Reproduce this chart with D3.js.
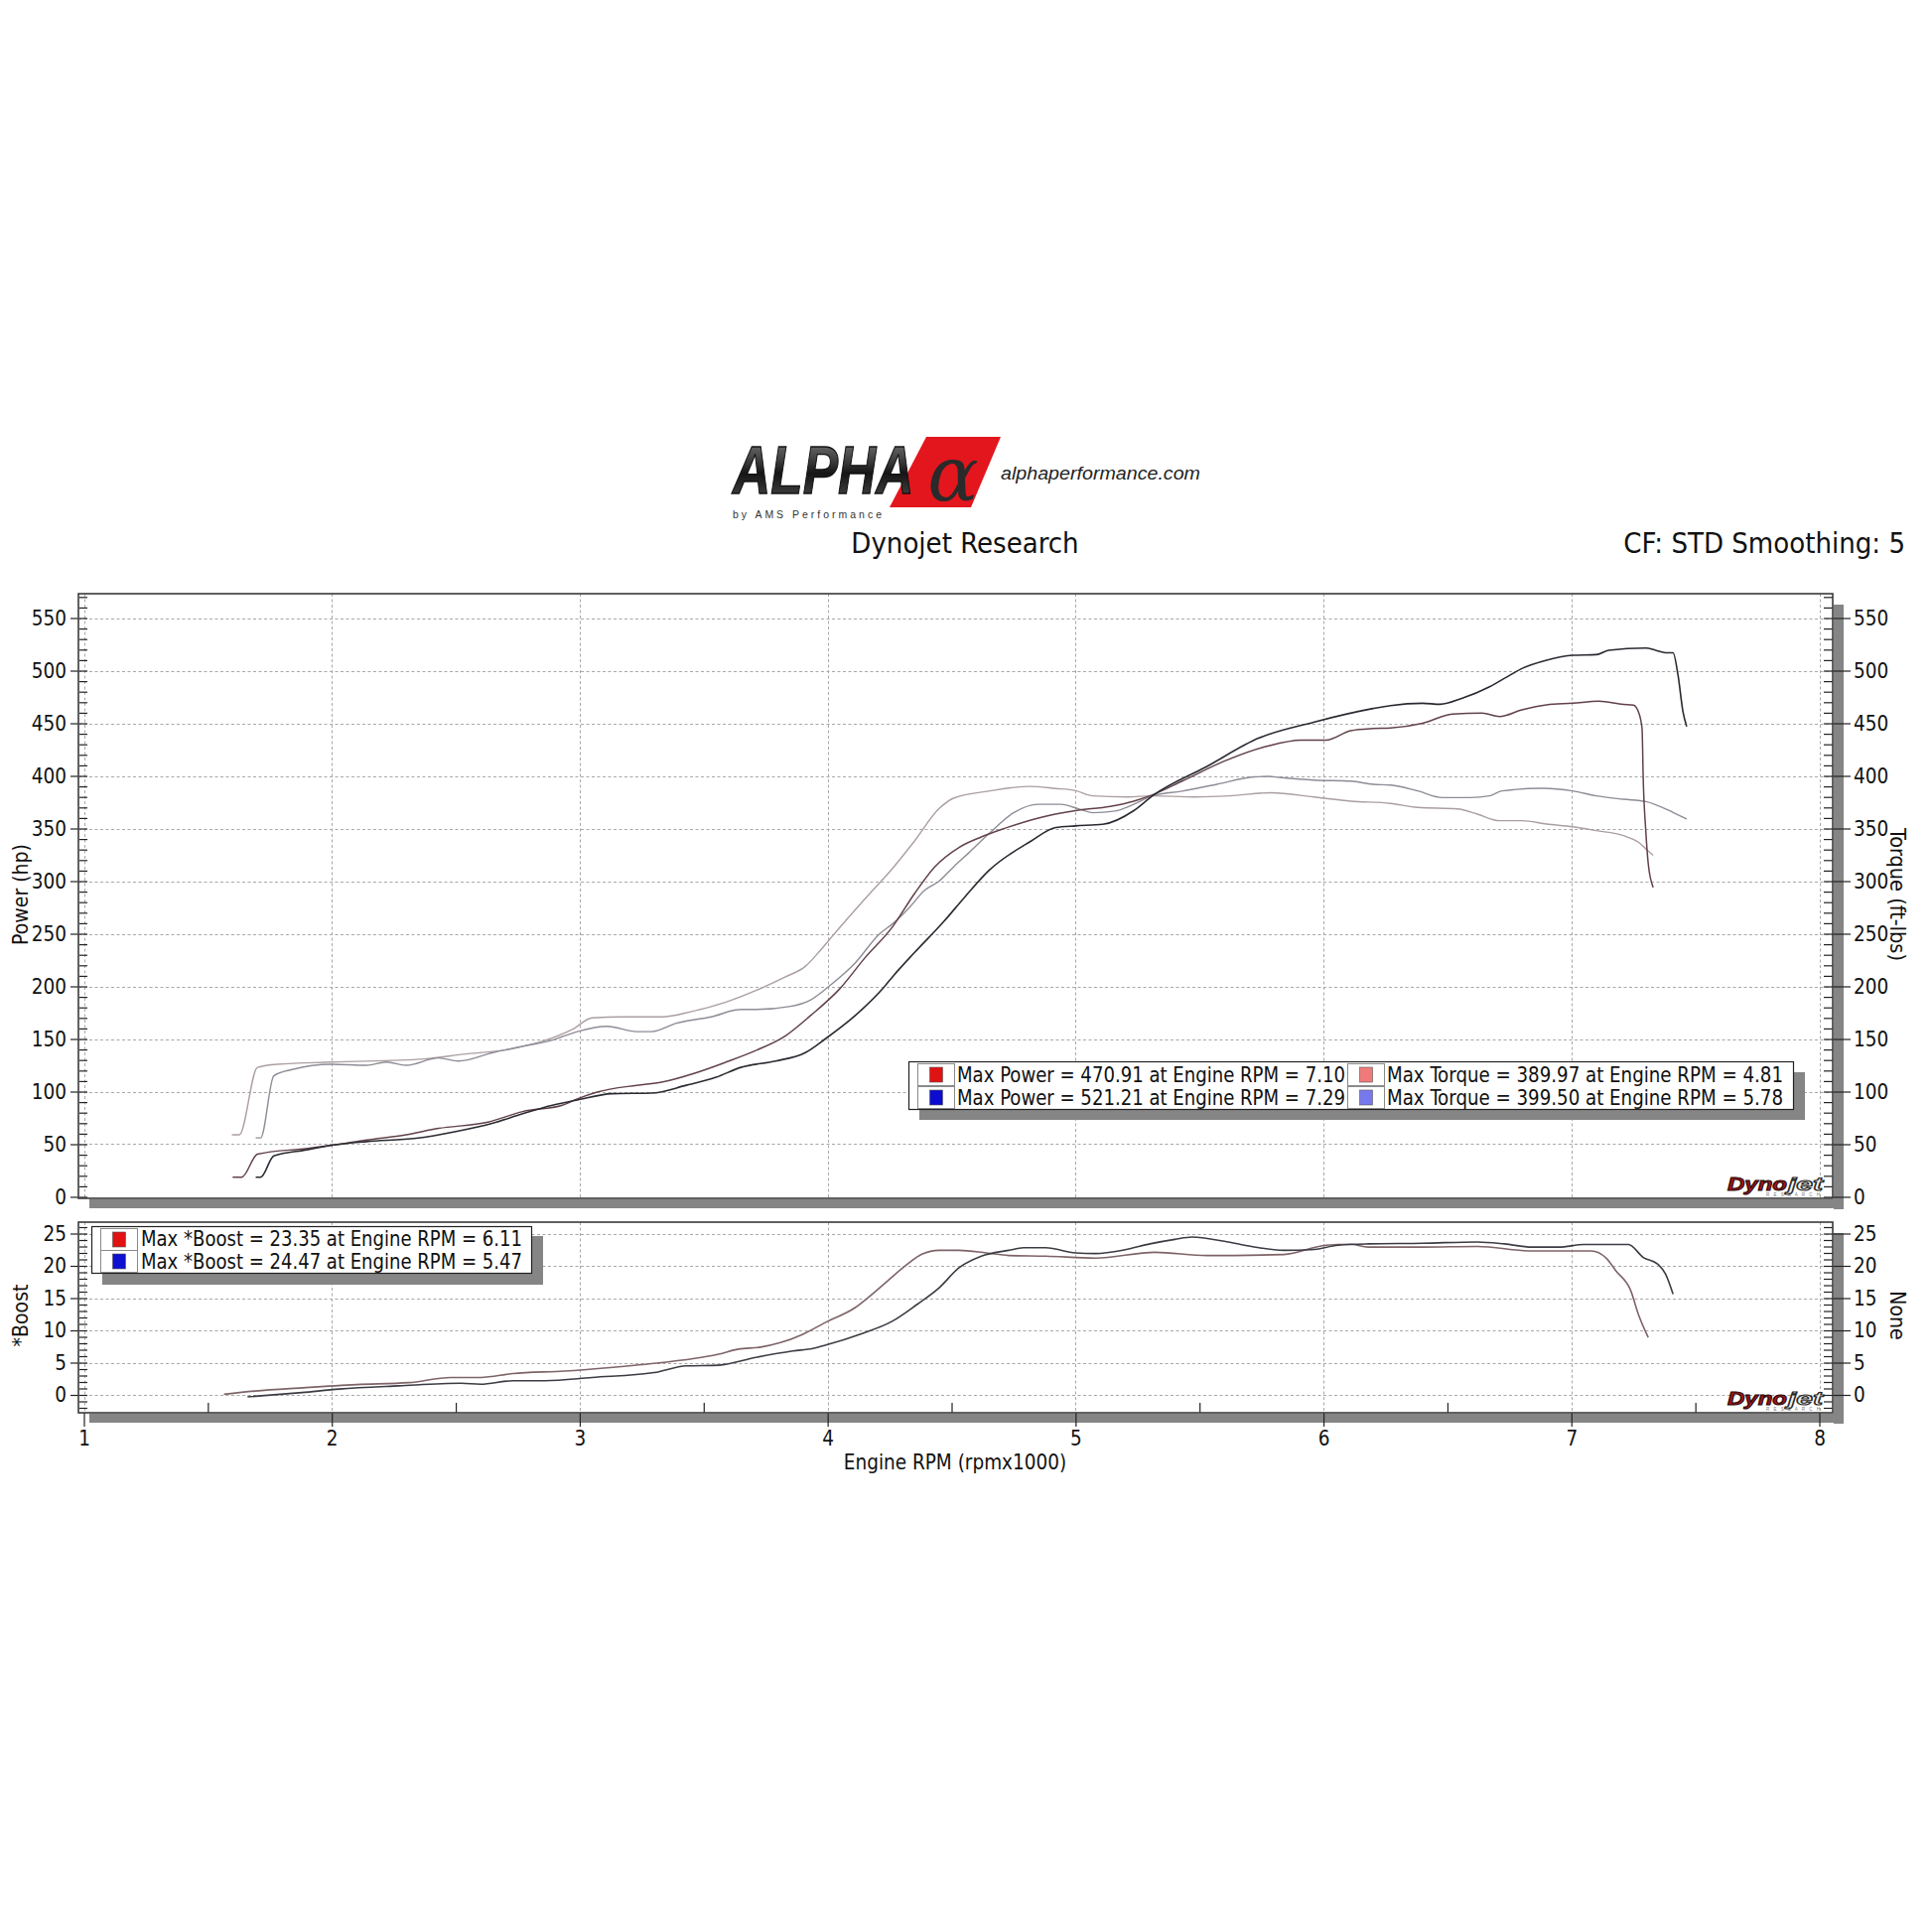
<!DOCTYPE html>
<html><head><meta charset="utf-8">
<script src="https://cdn.jsdelivr.net/npm/d3@7"></script>
<style>body{margin:0;background:#fff}svg{display:block}</style>
</head><body>
<svg id="c" width="1946" height="1946"></svg>
<script>
// ---------------- DATA ----------------
const xTicks = [1,2,3,4,5,6,7,8];
const powerTicks = [0,50,100,150,200,250,300,350,400,450,500,550];
const boostTicks = [0,5,10,15,20,25];

// [rpm x1000, value]
const run1Power = [[1.60,18.7],[1.637,18.7],[1.70,40.6],[1.90,46],[2.00,49],[2.14,54],[2.30,59],[2.43,65],[2.63,71],[2.77,81],[2.93,87],[2.99,93],[3.07,99.5],[3.23,106],[3.33,109],[3.47,118],[3.59,128],[3.71,139],[3.83,153],[3.93,172],[4.05,198],[4.15,227],[4.26,256],[4.35,288],[4.43,313],[4.53,332],[4.62,342],[4.70,349],[4.85,360],[5.00,367],[5.14,371],[5.235,376],[5.31,382],[5.43,395],[5.60,414],[5.77,428],[5.91,434],[6.01,434],[6.11,443],[6.20,445],[6.27,445.5],[6.40,450],[6.52,458.7],[6.64,459.6],[6.71,456.4],[6.80,462.7],[6.90,467.5],[7.005,469],[7.11,471],[7.21,468],[7.25,467.3],[7.27,461],[7.285,445],[7.29,395],[7.30,348],[7.31,316.5],[7.33,294]];
const run2Power = [[1.693,18.7],[1.713,18.7],[1.766,39],[1.90,44.7],[2.00,49],[2.14,52.5],[2.34,55.6],[2.50,62],[2.65,70],[2.77,79],[2.89,87],[2.99,92],[3.13,98],[3.29,98.6],[3.43,106],[3.55,113.6],[3.65,123],[3.79,129],[3.91,137],[3.99,150],[4.11,172],[4.23,200],[4.265,210],[4.35,232],[4.47,262],[4.55,284],[4.65,310],[4.82,338],[4.92,351],[5.00,352.5],[5.11,354],[5.235,367],[5.31,381],[5.53,409],[5.74,436],[5.96,451],[6.20,464],[6.27,466.8],[6.40,469],[6.47,468],[6.56,473.8],[6.67,484.7],[6.74,494],[6.80,502],[6.90,510],[7.005,514.6],[7.10,515.2],[7.15,519.3],[7.30,521.5],[7.34,519.3],[7.38,517],[7.41,517],[7.43,495.8],[7.45,461],[7.465,447]];
const run1Torque = [[1.597,59],[1.627,59],[1.70,123],[1.78,126],[2.00,128],[2.375,131],[2.53,135.5],[2.71,140],[2.89,151],[2.97,159],[3.05,170],[3.17,171],[3.33,171],[3.45,176],[3.59,185],[3.73,198],[3.83,209],[3.91,219],[3.97,234],[4.02,248],[4.15,283],[4.265,313],[4.35,338],[4.45,369],[4.51,379],[4.65,385.5],[4.81,390],[4.92,388],[5.00,386],[5.07,381],[5.21,380],[5.31,381],[5.48,380],[5.62,381],[5.79,384],[5.96,380],[6.11,376],[6.27,373.8],[6.38,370],[6.54,368.6],[6.62,363.7],[6.71,357.4],[6.80,357.4],[6.90,354.2],[7.005,351.7],[7.10,348],[7.21,343.2],[7.27,337],[7.31,328.6],[7.33,324.5]];
const run2Torque = [[1.693,56],[1.713,56],[1.766,115],[1.84,121],[2.00,126],[2.14,125],[2.22,128],[2.30,125],[2.43,132],[2.51,129],[2.65,137],[2.77,143],[2.89,149],[2.99,157],[3.11,162],[3.23,157],[3.29,157],[3.39,165],[3.53,171],[3.65,178],[3.71,178],[3.85,181],[3.93,187],[4.01,201],[4.11,222],[4.21,250],[4.265,260],[4.33,275],[4.39,291],[4.45,300],[4.51,314],[4.57,327],[4.65,345],[4.75,365],[4.85,373],[4.94,373],[5.02,368],[5.07,365],[5.16,366.6],[5.235,373],[5.31,381],[5.43,385.5],[5.57,392],[5.72,399],[5.78,399.5],[5.82,398.6],[5.96,396],[6.11,395],[6.20,392],[6.27,391.3],[6.38,385.7],[6.48,379.4],[6.59,379.4],[6.67,381],[6.72,385.7],[6.885,388.2],[7.005,385.7],[7.10,381],[7.21,377.8],[7.30,375.6],[7.41,365.3],[7.465,359]];
const run1Boost = [[1.565,0.1],[1.69,0.6],[1.88,1.1],[2.10,1.6],[2.31,1.9],[2.48,2.7],[2.60,2.7],[2.73,3.3],[2.94,3.7],[3.11,4.2],[3.33,5.0],[3.49,5.8],[3.56,6.3],[3.64,7.1],[3.73,7.4],[3.81,8.1],[3.90,9.4],[4.00,11.4],[4.11,13.5],[4.17,15.3],[4.24,17.6],[4.32,20.2],[4.38,21.8],[4.45,22.4],[4.53,22.4],[4.64,22.0],[4.73,21.6],[4.88,21.5],[5.08,21.2],[5.32,22.1],[5.53,21.6],[5.84,21.75],[6.01,23.2],[6.11,23.35],[6.18,22.9],[6.40,22.9],[6.62,23.0],[6.84,22.3],[7.08,22.3],[7.14,21.2],[7.18,19.2],[7.24,16.1],[7.27,12.5],[7.31,8.9]];
const run2Boost = [[1.66,-0.3],[1.88,0.36],[2.03,0.9],[2.27,1.4],[2.52,1.8],[2.60,1.65],[2.73,2.2],[2.86,2.2],[3.05,2.7],[3.30,3.45],[3.43,4.5],[3.56,4.6],[3.71,5.8],[3.86,6.8],[3.94,7.2],[4.00,7.8],[4.13,9.4],[4.26,11.4],[4.36,14.0],[4.45,16.6],[4.53,19.7],[4.62,21.5],[4.73,22.4],[4.79,22.8],[4.88,22.8],[5.00,22.0],[5.08,21.9],[5.20,22.5],[5.30,23.4],[5.40,24.1],[5.47,24.47],[5.60,23.8],[5.71,23.0],[5.84,22.4],[5.95,22.5],[6.06,23.2],[6.18,23.4],[6.40,23.5],[6.62,23.7],[6.73,23.4],[6.84,22.9],[6.95,22.9],[7.05,23.3],[7.23,23.3],[7.29,21.3],[7.35,20.2],[7.38,18.7],[7.41,15.6]];

const topLegend = [
  "Max Power = 470.91 at Engine RPM = 7.10",
  "Max Power = 521.21 at Engine RPM = 7.29",
  "Max Torque = 389.97 at Engine RPM = 4.81",
  "Max Torque = 399.50 at Engine RPM = 5.78"];
const boostLegend = [
  "Max *Boost = 23.35 at Engine RPM = 6.11",
  "Max *Boost = 24.47 at Engine RPM = 5.47"];

// ---------------- DRAW ----------------
const svg = d3.select("#c");
const FONT = "'DejaVu Sans Condensed','DejaVu Sans',sans-serif";
const L = 79, R = 1846;
const T1 = 598, B1 = 1207, T2 = 1231, B2 = 1423;

const x = d3.scaleLinear().domain([1,8]).range([84.5,1832.5]);
const yP = d3.scaleLinear().domain([0,550]).range([1205.5,622.5]);
const yB = d3.scaleLinear().domain([0,25]).range([1405,1242.5]);

const defs = svg.append("defs");
defs.append("clipPath").attr("id","clipTop").append("rect").attr("x",L).attr("y",T1).attr("width",R-L).attr("height",B1-T1);
defs.append("clipPath").attr("id","clipBot").append("rect").attr("x",L).attr("y",T2).attr("width",R-L).attr("height",B2-T2);
const g1 = defs.append("linearGradient").attr("id","alphaGrad").attr("x1",0).attr("y1",0).attr("x2",0).attr("y2",1);
[[0,"#8a8a8a"],[0.4,"#3a3a3a"],[0.55,"#151515"],[1,"#555"]].forEach(s=>g1.append("stop").attr("offset",s[0]).attr("stop-color",s[1]));

// ----- Header / logo -----
const logo = svg.append("g");
logo.append("path").attr("d","M933,440 L1008,440 L978,511 L896,511 Z").attr("fill","#e3161d");
logo.append("text").attr("transform","translate(738,497) scale(1,1.3)").attr("font-family","'Liberation Sans',Arial,sans-serif")
  .attr("font-weight","bold").attr("font-style","italic").attr("font-size",53)
  .attr("fill","url(#alphaGrad)").attr("stroke","#111").attr("stroke-width",1).text("ALPHA");
logo.append("text").attr("x",960).attr("y",504).attr("text-anchor","middle")
  .attr("font-family","'DejaVu Serif',serif").attr("font-style","italic").attr("font-size",76)
  .attr("fill","#2a2a2a").text("α");
logo.append("text").attr("x",738).attr("y",522).attr("font-family","'Liberation Sans',Arial,sans-serif")
  .attr("font-size",10.5).attr("textLength",150).attr("lengthAdjust","spacing").attr("fill","#333")
  .text("by AMS Performance");
logo.append("text").attr("x",1008).attr("y",483).attr("font-family","'Liberation Sans',Arial,sans-serif")
  .attr("font-style","italic").attr("font-size",19).attr("textLength",201).attr("lengthAdjust","spacingAndGlyphs")
  .attr("fill","#222").text("alphaperformance.com");

svg.append("text").attr("x",972).attr("y",557).attr("text-anchor","middle").attr("font-family",FONT)
  .attr("font-size",29).attr("fill","#111").text("Dynojet Research");
svg.append("text").attr("x",1919).attr("y",557).attr("text-anchor","end").attr("font-family",FONT)
  .attr("font-size",29).attr("fill","#111").text("CF: STD Smoothing: 5");

// ----- Panel shadows -----
function shadow(top, bottom){
  svg.append("rect").attr("x",R+1).attr("y",top+11).attr("width",10).attr("height",bottom-top).attr("fill","#858585");
  svg.append("rect").attr("x",90).attr("y",bottom+1).attr("width",R+11-90).attr("height",9).attr("fill","#858585");
}
shadow(T1,B1); shadow(T2,B2);
svg.append("rect").attr("x",L).attr("y",T1).attr("width",R-L).attr("height",B1-T1).attr("fill","#fff");
svg.append("rect").attr("x",L).attr("y",T2).attr("width",R-L).attr("height",B2-T2).attr("fill","#fff");

// ----- Grids -----
function grid(yScale, vals, top, bottom){
  const gg = svg.append("g").attr("stroke","#a8a8a8").attr("stroke-width",1).attr("stroke-dasharray","3,2.5");
  gg.selectAll(".h").data(vals).join("line").attr("x1",L).attr("x2",R)
    .attr("y1",d=>Math.round(yScale(d))+0.5).attr("y2",d=>Math.round(yScale(d))+0.5);
  gg.selectAll(".v").data(xTicks).join("line").attr("y1",top).attr("y2",bottom)
    .attr("x1",d=>Math.round(x(d))+0.5).attr("x2",d=>Math.round(x(d))+0.5);
}
grid(yP, powerTicks.filter(d=>d>0), T1, B1);
grid(yB, boostTicks, T2, B2);

// ----- Axes -----
function styleAxis(sel, fs){
  sel.select(".domain").remove();
  sel.selectAll("line").attr("stroke","#222").attr("stroke-width",1.2);
  sel.selectAll("text").attr("font-family",FONT).attr("font-size",fs).attr("fill","#111");
}
const TFS = 20.5;
function yAxes(yScale, major, minor){
  svg.append("g").attr("transform",`translate(${L},0)`)
    .call(d3.axisLeft(yScale).tickValues(major).tickSize(8).tickPadding(4).tickFormat(d3.format("d")))
    .call(s=>styleAxis(s,TFS));
  svg.append("g").attr("transform",`translate(${L+1},0)`)
    .call(d3.axisRight(yScale).tickValues(minor).tickSize(8).tickFormat(""))
    .call(s=>styleAxis(s,TFS));
  svg.append("g").attr("transform",`translate(${R},0)`)
    .call(d3.axisRight(yScale).tickValues(major).tickSize(18).tickPadding(3).tickFormat(d3.format("d")))
    .call(s=>styleAxis(s,TFS));
  svg.append("g").attr("transform",`translate(${R},0)`)
    .call(d3.axisLeft(yScale).tickValues(minor).tickSize(9).tickFormat(""))
    .call(s=>styleAxis(s,TFS));
}
yAxes(yP, powerTicks, d3.range(0,571,10));
yAxes(yB, boostTicks, d3.range(-2,27,1));

svg.append("g").attr("transform",`translate(0,${B2})`)
  .call(d3.axisBottom(x).tickValues(xTicks).tickSize(14).tickPadding(4).tickFormat(d3.format("d")))
  .call(s=>styleAxis(s,TFS));
svg.append("g").attr("transform",`translate(0,${B2})`)
  .call(d3.axisTop(x).tickValues(d3.range(1.5,8,1)).tickSize(10).tickFormat(""))
  .call(s=>styleAxis(s,TFS));

// ----- Frames -----
[[T1,B1],[T2,B2]].forEach(([t,b])=>svg.append("rect").attr("x",L).attr("y",t).attr("width",R-L).attr("height",b-t)
  .attr("fill","none").attr("stroke","#3a3a3a").attr("stroke-width",1.6));

// ----- Axis titles -----
function vtitle(txt, tx, ty, rot, fs){
  svg.append("text").attr("transform",`translate(${tx},${ty}) rotate(${rot})`).attr("text-anchor","middle")
    .attr("font-family",FONT).attr("font-size",fs).attr("fill","#111").text(txt);
}
vtitle("Power (hp)", 28, 901, -90, 21);
vtitle("Torque (ft-lbs)", 1904, 901, 90, 21.5);
vtitle("*Boost", 28, 1325, -90, 21);
vtitle("None", 1904, 1325, 90, 21);
svg.append("text").attr("x",962).attr("y",1480).attr("text-anchor","middle").attr("font-family",FONT)
  .attr("font-size",20.5).attr("fill","#111").text("Engine RPM (rpmx1000)");

// ----- Dynojet logos -----
function dyno(right, base){
  const g = svg.append("g");
  g.append("text").attr("x",right-97).attr("y",base).attr("font-family","'Liberation Sans',Arial,sans-serif")
    .attr("font-weight","bold").attr("font-style","italic").attr("font-size",19)
    .attr("textLength",60).attr("lengthAdjust","spacingAndGlyphs")
    .attr("fill","#a3171c").attr("stroke","#2a0606").attr("stroke-width",1).text("Dyno");
  g.append("text").attr("x",right-36).attr("y",base).attr("font-family","'Liberation Sans',Arial,sans-serif")
    .attr("font-weight","bold").attr("font-style","italic").attr("font-size",19)
    .attr("textLength",35).attr("lengthAdjust","spacingAndGlyphs")
    .attr("fill","#f4f4f4").attr("stroke","#2a2a2a").attr("stroke-width",1.1).text("jet");
  g.append("text").attr("x",right-58).attr("y",base+5.5).attr("font-family","'Liberation Sans',Arial,sans-serif")
    .attr("font-size",4.5).attr("textLength",54).attr("lengthAdjust","spacing").attr("fill","#777").text("R E S E A R C H");
}
dyno(1837, 1199);
dyno(1837, 1415);

// ----- Curves -----
const linePT = d3.line().x(d=>x(d[0])).y(d=>yP(d[1])).curve(d3.curveMonotoneX);
const lineB = d3.line().x(d=>x(d[0])).y(d=>yB(d[1])).curve(d3.curveMonotoneX);
const cTop = svg.append("g").attr("clip-path","url(#clipTop)").attr("fill","none").attr("stroke-linejoin","round");
cTop.append("path").datum(run1Torque).attr("d",linePT).attr("stroke","#ab9ea0").attr("stroke-width",1.4);
cTop.append("path").datum(run2Torque).attr("d",linePT).attr("stroke","#8e8c96").attr("stroke-width",1.4);
cTop.append("path").datum(run1Power).attr("d",linePT).attr("stroke","#624249").attr("stroke-width",1.5);
cTop.append("path").datum(run2Power).attr("d",linePT).attr("stroke","#2a2a32").attr("stroke-width",1.6);
const cBot = svg.append("g").attr("clip-path","url(#clipBot)").attr("fill","none").attr("stroke-linejoin","round");
cBot.append("path").datum(run1Boost).attr("d",lineB).attr("stroke","#7e6468").attr("stroke-width",1.6);
cBot.append("path").datum(run2Boost).attr("d",lineB).attr("stroke","#3c3c44").attr("stroke-width",1.6);

// ----- Legends -----
function swatch(bx, by, color){
  svg.append("rect").attr("x",bx+0.5).attr("y",by+0.5).attr("width",37).attr("height",22)
    .attr("fill","#fff").attr("stroke","#8a8a8a").attr("stroke-width",1);
  svg.append("rect").attr("x",bx+12.5).attr("y",by+4).attr("width",13).attr("height",15)
    .attr("fill",color).attr("stroke","#555").attr("stroke-width",0.6);
}
function legText(tx, base, txt, w){
  svg.append("text").attr("x",tx).attr("y",base).attr("font-family",FONT).attr("font-size",20.5)
    .attr("fill","#111").attr("textLength",w).attr("lengthAdjust","spacingAndGlyphs").text(txt);
}
// top legend
svg.append("rect").attr("x",926).attr("y",1080).attr("width",892).attr("height",48).attr("fill","#858585");
svg.append("rect").attr("x",915.5).attr("y",1069.5).attr("width",891).attr("height",48).attr("fill","#fff").attr("stroke","#222").attr("stroke-width",1.2);
const topColors = ["#e01212","#0c0cd0","#f07a7a","#7878ee"];
swatch(924,1071,topColors[0]); swatch(924,1094,topColors[1]);
swatch(1357,1071,topColors[2]); swatch(1357,1094,topColors[3]);
legText(964,1089.5,topLegend[0],391); legText(964,1113,topLegend[1],391);
legText(1397,1089.5,topLegend[2],399); legText(1397,1113,topLegend[3],399);
// boost legend
svg.append("rect").attr("x",103).attr("y",1245).attr("width",444).attr("height",49).attr("fill","#858585");
svg.append("rect").attr("x",92.5).attr("y",1235.5).attr("width",443).attr("height",47).attr("fill","#fff").attr("stroke","#222").attr("stroke-width",1.2);
swatch(101,1237,"#e01212"); swatch(101,1259,"#1010d0");
legText(142,1255,boostLegend[0],384); legText(142,1278,boostLegend[1],384);
</script>
</body></html>
